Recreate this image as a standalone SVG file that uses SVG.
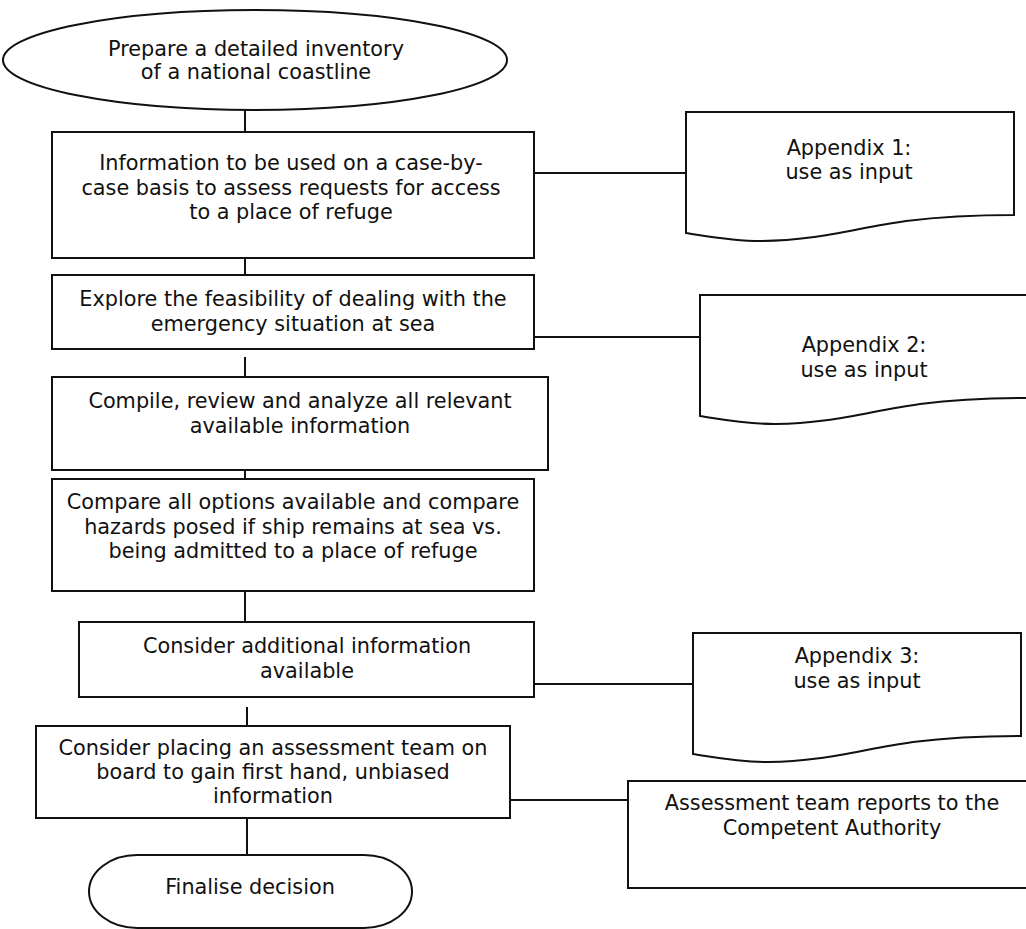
<svg xmlns="http://www.w3.org/2000/svg" width="1026" height="929" viewBox="0 0 1026 929">
<style>
.s{fill:#fff;stroke:#111;stroke-width:2}
.c{fill:none;stroke:#111;stroke-width:2}
text{font-family:"DejaVu Sans","Verdana",sans-serif;font-size:20.8px;fill:#111;text-anchor:middle}
</style>
<defs>
<path id="doc" d="M0,0 H328 V103 C290,103 260,104 220,109 C170,116 130,129 75,129 C45,129 20,124 0,121 Z"/>
</defs>
<rect width="1026" height="929" fill="#fff"/>
<g id="connectors">
<line class="c" x1="245" y1="110" x2="245" y2="132"/>
<line class="c" x1="245" y1="255" x2="245" y2="275"/>
<line class="c" x1="245" y1="357" x2="245" y2="377"/>
<line class="c" x1="245" y1="459" x2="245" y2="479"/>
<line class="c" x1="245" y1="582" x2="245" y2="622"/>
<line class="c" x1="247" y1="707" x2="247" y2="726"/>
<line class="c" x1="247" y1="818" x2="247" y2="855"/>
<line class="c" x1="534" y1="173" x2="686" y2="173"/>
<line class="c" x1="534" y1="337" x2="700" y2="337"/>
<line class="c" x1="534" y1="684" x2="693" y2="684"/>
<line class="c" x1="510" y1="800" x2="628" y2="800"/>
</g>
<g id="start">
<ellipse class="s" cx="255" cy="60" rx="252" ry="50"/>
<text x="256" y="56">Prepare a detailed inventory</text>
<text x="256" y="79">of a national coastline</text>
</g>
<g id="info">
<rect class="s" x="52" y="132" width="482" height="126"/>
<text x="291" y="170">Information to be used on a case-by-</text>
<text x="291" y="195">case basis to assess requests for access</text>
<text x="291" y="219">to a place of refuge</text>
</g>
<g id="explore">
<rect class="s" x="52" y="275" width="482" height="74"/>
<text x="293" y="306">Explore the feasibility of dealing with the</text>
<text x="293" y="331">emergency situation at sea</text>
</g>
<g id="compile">
<rect class="s" x="52" y="377" width="496" height="93"/>
<text x="300" y="408">Compile, review and analyze all relevant</text>
<text x="300" y="433">available information</text>
</g>
<g id="compare">
<rect class="s" x="52" y="479" width="482" height="112"/>
<text x="293" y="509">Compare all options available and compare</text>
<text x="293" y="534">hazards posed if ship remains at sea vs.</text>
<text x="293" y="558">being admitted to a place of refuge</text>
</g>
<g id="additional">
<rect class="s" x="79" y="622" width="455" height="75"/>
<text x="307" y="653">Consider additional information</text>
<text x="307" y="678">available</text>
</g>
<g id="team">
<rect class="s" x="36" y="726" width="474" height="92"/>
<text x="273" y="755">Consider placing an assessment team on</text>
<text x="273" y="779">board to gain first hand, unbiased</text>
<text x="273" y="803">information</text>
</g>
<g id="finalise">
<rect class="s" x="89" y="855" width="323" height="73" rx="48" ry="36.5"/>
<text x="250" y="894">Finalise decision</text>
</g>
<g id="appendix1">
<use href="#doc" class="s" transform="translate(686,112)"/>
<text x="849" y="155">Appendix 1:</text>
<text x="849" y="179">use as input</text>
</g>
<g id="appendix2">
<use href="#doc" class="s" transform="translate(700,295)"/>
<text x="864" y="352">Appendix 2:</text>
<text x="864" y="377">use as input</text>
</g>
<g id="appendix3">
<use href="#doc" class="s" transform="translate(693,633)"/>
<text x="857" y="663">Appendix 3:</text>
<text x="857" y="688">use as input</text>
</g>
<g id="reports">
<rect class="s" x="628" y="781" width="410" height="107"/>
<text x="832" y="810">Assessment team reports to the</text>
<text x="832" y="835">Competent Authority</text>
</g>
</svg>
